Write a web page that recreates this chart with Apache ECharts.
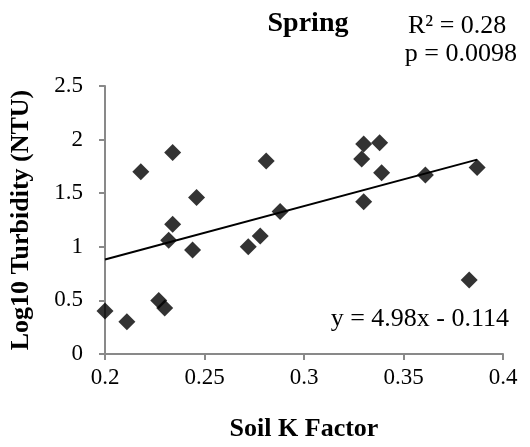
<!DOCTYPE html>
<html>
<head>
<meta charset="utf-8">
<script src="https://cdn.jsdelivr.net/npm/echarts@6/dist/echarts.min.js"></script>
<style>
  html, body { margin: 0; padding: 0; background: #fff; }
  #chart { width: 530px; height: 447px; }
</style>
</head>
<body>
<div id="chart"></div>
<script>
// Soil K factor vs log10 turbidity, spring samples
const soilK = [0.200, 0.211, 0.218, 0.227, 0.230, 0.232, 0.234, 0.234, 0.244, 0.246, 0.272,
  0.278, 0.281, 0.288, 0.329, 0.330, 0.330, 0.338, 0.339, 0.361, 0.383, 0.387];
const logTurbidity = [0.40, 0.30, 1.70, 0.50, 0.43, 1.06, 1.21, 1.88, 0.97, 1.46, 1.00,
  1.10, 1.80, 1.33, 1.82, 1.42, 1.96, 1.97, 1.69, 1.67, 0.69, 1.74];
const xTicks = [0.2, 0.25, 0.3, 0.35, 0.4];
const yTicks = [0, 0.5, 1, 1.5, 2, 2.5];
const slope = 4.98;
const intercept = -0.114;
const statsText = ['R\u00B2 = 0.28', 'p = 0.0098'];
const eqText = 'y = 4.98x - 0.114';

const FONT = '"Liberation Serif", "Times New Roman", serif';

const points = soilK.map((x, i) => [x, logTurbidity[i]]);
const xMin = Math.min(...soilK);
const xMax = Math.max(...soilK);
const trend = [xMin, xMax].map(x => [x, slope * x + intercept]);

const chart = echarts.init(document.getElementById('chart'));

chart.setOption({
  backgroundColor: '#fff',
  animation: false,
  grid: { left: 94, right: 27, top: 86, bottom: 82 },
  xAxis: {
    type: 'value',
    min: xTicks[0],
    max: xTicks[xTicks.length - 1],
    interval: 0.05,
    name: 'Soil K Factor',
    nameLocation: 'middle',
    nameGap: 62,
    nameTextStyle: { fontFamily: FONT, fontWeight: 'bold', fontSize: 26, color: '#000' },
    axisLine: { lineStyle: { color: '#898989', width: 2 } },
    axisTick: { length: 6, lineStyle: { color: '#898989', width: 2 } },
    splitLine: { show: false },
    axisLabel: { fontFamily: FONT, fontSize: 23, color: '#000', margin: 12 }
  },
  yAxis: {
    type: 'value',
    min: yTicks[0],
    max: yTicks[yTicks.length - 1],
    interval: 0.5,
    name: 'Log10 Turbidity (NTU)',
    nameLocation: 'middle',
    nameGap: 71,
    nameTextStyle: { fontFamily: FONT, fontWeight: 'bold', fontSize: 26, color: '#000' },
    axisLine: { show: true, lineStyle: { color: '#898989', width: 2 } },
    axisTick: { show: true, length: 6, lineStyle: { color: '#898989', width: 2 } },
    splitLine: { show: false },
    axisLabel: { fontFamily: FONT, fontSize: 23, color: '#000', margin: 22 }
  },
  series: [
    {
      type: 'line',
      data: trend,
      symbol: 'none',
      lineStyle: { color: '#000', width: 2 },
      z: 1
    },
    {
      type: 'scatter',
      data: points,
      symbol: 'diamond',
      symbolSize: 17,
      itemStyle: { color: '#000' },
      z: 2
    }
  ],
  graphic: [
    {
      type: 'text',
      style: { x: 308, y: 24, text: 'Spring', textAlign: 'center', textVerticalAlign: 'middle',
        font: 'bold 28px ' + FONT, fill: '#000' }
    },
    {
      type: 'text',
      style: { x: 408, y: 26, text: statsText[0], textAlign: 'left', textVerticalAlign: 'middle',
        font: '26px ' + FONT, fill: '#000' }
    },
    {
      type: 'text',
      style: { x: 517, y: 54, text: statsText[1], textAlign: 'right', textVerticalAlign: 'middle',
        font: '26px ' + FONT, fill: '#000' }
    },
    {
      type: 'text',
      style: { x: 509, y: 319, text: eqText, textAlign: 'right', textVerticalAlign: 'middle',
        font: '26px ' + FONT, fill: '#000' }
    }
  ]
});
</script>
</body>
</html>
